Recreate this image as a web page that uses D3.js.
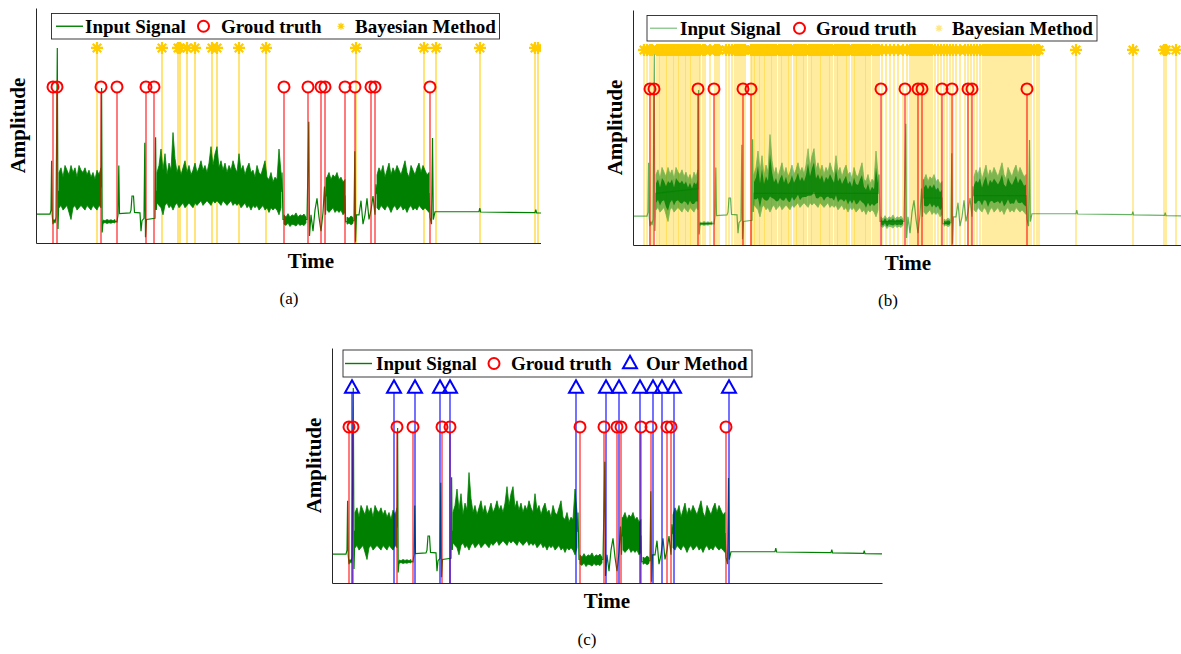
<!DOCTYPE html>
<html>
<head>
<meta charset="utf-8">
<script src="https://cdn.jsdelivr.net/npm/d3@7"></script>
<style>
  body { margin: 0; background: #fff; }
  text { font-family: "Liberation Serif", "Times New Roman", serif; }
</style>
</head>
<body>
<div id="fig"></div>
<script>
// time in samples (same scale in every panel), amplitude normalised 0..100
const tMax = 550;
const gtLevel = 66.4;
const detLevel = 83;

const groundTruth = [17, 21, 65, 81, 110, 118, 248, 272, 285, 289, 309, 319, 335, 339, 394];

const bayesA = [61, 126, 142, 144, 151, 159, 176, 181, 203, 230, 320, 388, 400, 444, 499, 502];

const bayesB = [11, 14, 17, 19, 24, 26, 27, 29, 31, 33, 34, 36, 38, 40, 41, 43, 45, 46, 48, 50,
  52, 53, 55, 57, 58, 60, 62, 64, 66, 67, 70,
  72, 77, 82, 84, 86, 93, 96, 99,
  102, 104, 106, 108, 110, 112,
  118, 119, 121, 122, 124, 126, 127, 129, 131, 132, 134, 136, 138, 139, 141, 143, 146, 148,
  149, 151, 153, 155, 156, 158, 161, 163, 164, 166, 168, 170, 171, 173, 176, 178, 179, 181,
  183, 185, 187, 188, 190, 192, 194, 196, 197, 199, 202, 204, 205, 207, 209, 211, 213, 214,
  216, 219, 221, 222, 224, 226, 228, 230, 232, 233, 235, 237, 240, 242, 244, 246, 249, 253,
  257, 261, 265, 270, 274, 277, 279, 281,
  283, 285, 287, 289, 291, 293, 295, 297, 299, 302, 305, 308, 311,
  314, 317, 320, 323, 327,
  332, 335, 338, 341, 344, 347, 350,
  352, 354, 356, 358, 360, 362, 364, 366, 368, 370, 372, 374, 376, 378, 380, 382, 384, 386,
  388, 390, 392, 394, 396, 398, 401, 404, 406,
  443, 500, 531, 533, 543];

const ourMethod = [20, 62, 83, 108, 118, 244, 274, 287, 308, 321, 330, 342, 397];

// slow part of the input signal, [t, amplitude]
const signalLine = [
  [0, 12.3], [14, 12.3], [15, 14], [15.6, 35], [16.2, 12], [17, 8], [18, 10], [19, 8.5], [20, 11],
  [21.3, 83], [22, 6], [23, 22], [65, 24], [65.6, 66], [66.2, 4.5], [67, 9], [80, 9.2], [81, 9],
  [82, 12], [82.8, 33], [83.5, 12.5], [94, 12.8], [95, 14], [96, 20], [97.5, 20], [98.5, 13],
  [104, 12.8], [105, 5], [106, 9.5], [108, 10.5], [108.8, 42.7], [109.5, 2.5], [110.5, 10],
  [119, 10.5], [119.6, 45], [120.3, 14], [121, 22], [245, 22], [246, 30], [247, 10], [271, 10],
  [272.8, 51.6], [273.5, 3], [275, 12], [277, 5], [279, 14], [281, 19], [283, 11], [285, 5],
  [287, 13], [288.5, 24], [289.5, 12], [290.5, 28], [291, 20], [309, 20], [309.6, 9], [318, 9.5],
  [318.8, 39], [319.5, 0.5], [320.5, 12], [323, 12], [325, 18], [327, 8], [329, 12], [331, 19],
  [333, 10], [335, 14], [337, 20], [339, 12], [340, 25], [341, 21], [393, 21], [394, 11],
  [395.5, 8], [396.5, 44.7], [397.3, 10], [399, 13.3], [443, 13.3], [443.8, 14.8], [444.6, 13.2],
  [499, 12.9], [499.8, 14.2], [500.6, 12.8], [531.5, 12.6], [532.2, 13.8], [533, 12.5], [550, 12.4]
];

// envelopes of the noisy stretches (step of 2 samples)
const noise1Hi = [30, 32, 28, 33, 31, 29, 33, 30, 32, 28, 33, 31, 30, 32, 29, 31, 28, 30, 27, 31, 29, 32];
const noise1Lo = [15, 16, 14, 15, 16, 13, 10, 15, 16, 14, 15, 16, 15, 14, 16, 15, 14, 16, 15, 14, 16, 15];
const noise2Hi = [30, 33, 40, 31, 38, 29, 34, 31, 47, 36, 30, 33, 29, 32, 35, 30, 33, 29, 31, 34,
  30, 32, 35, 31, 33, 30, 34, 41, 33, 38, 41, 32, 35, 31, 34, 30, 33, 31, 35, 32,
  30, 38, 31, 33, 29, 32, 34, 30, 31, 28, 33, 30, 29, 32, 35, 28, 27, 30, 26, 28, 27, 40, 30];
const noise2Lo = [17, 16, 15, 12, 16, 17, 15, 16, 14, 16, 17, 15, 16, 17, 15, 16, 17, 16, 15, 17,
  16, 17, 18, 16, 17, 18, 17, 16, 18, 17, 18, 17, 16, 18, 17, 16, 17, 18, 16, 17,
  16, 17, 15, 16, 17, 15, 16, 14, 16, 15, 16, 14, 15, 16, 14, 15, 13, 15, 14, 15, 14, 12, 15];
const noise3Hi = [28, 30, 27, 29, 28, 30, 27, 28, 26, 27];
const noise3Lo = [14, 13, 14, 15, 13, 14, 13, 14, 12, 13];
const noise4Hi = [29, 32, 30, 33, 28, 31, 34, 29, 32, 30, 33, 31, 29, 32, 35, 30, 28, 33, 31, 29, 32, 34, 30, 33, 31, 29, 30];
const noise4Lo = [15, 14, 16, 15, 14, 16, 15, 13, 15, 16, 14, 15, 16, 14, 15, 13, 15, 16, 14, 15, 14, 16, 15, 14, 15, 14, 13];
const noise5Hi = [9.8, 9.5, 10, 9.6, 9.9, 9.5, 10];
const noise5Lo = [8.4, 8.7, 8.3, 8.6, 8.4, 8.8, 8.5];
const noise6Hi = [12, 11, 12.5, 11, 12, 11.5, 12.8, 11, 12, 11.5, 12.3, 11];
const noise6Lo = [8, 7.5, 8.5, 7, 8, 7.8, 7.2, 8.3, 7.5, 8, 7.4, 8.5];
const noise7Hi = [11, 10.5, 11.5, 10.8];
const noise7Lo = [8, 8.5, 7.8, 8.3];

const noiseSegs = [
  [23, noise1Lo, noise1Hi], [121, noise2Lo, noise2Hi], [291, noise3Lo, noise3Hi],
  [341, noise4Lo, noise4Hi], [67, noise5Lo, noise5Hi], [248, noise6Lo, noise6Hi],
  [311, noise7Lo, noise7Hi]
];

const GREEN = "#008000", RED = "#ff0000", YELLOW = "#ffcc00", BLUE = "#0000ff", AXIS = "#262626";
const plotW = 550, plotH = 235;

const svg = d3.select("#fig").append("svg")
  .attr("width", 1181)
  .attr("height", 654);

const x = d3.scaleLinear().domain([0, tMax]).range([0, plotW]);
const y = d3.scaleLinear().domain([0, 100]).range([plotH, 0]);

function starPath(r) {
  const k = r * 0.7071;
  return `M${-r},0L${r},0M0,${-r}L0,${r}M${-k},${-k}L${k},${k}M${-k},${k}L${k},${-k}`;
}
function triPath(w, h) {
  return `M0,${-h * 0.62}L${w},${h * 0.38}L${-w},${h * 0.38}Z`;
}

function drawPanel(p) {
  const g = svg.append("g").attr("transform", `translate(${p.left},${p.bottom - plotH})`);

  if (p.clip) {
    svg.append("clipPath").attr("id", "clip-" + p.id)
      .append("rect").attr("x", -40).attr("y", -60).attr("width", p.clip + 40).attr("height", plotH + 120);
    g.attr("clip-path", `url(#clip-${p.id})`);
  }

  // detection stems (behind the signal)
  const detColor = p.kind === "star" ? YELLOW : BLUE;
  if (p.kind === "star") {
    g.selectAll(".det").data(p.det).enter().append("line")
      .attr("x1", d => x(d)).attr("x2", d => x(d))
      .attr("y1", y(0)).attr("y2", y(detLevel))
      .attr("stroke", YELLOW).attr("stroke-width", p.faded ? 1 : 1.3)
      .attr("stroke-opacity", p.faded ? 0.75 : 0.8);
  }

  // input signal
  const area = d3.area().x(d => x(d.t)).y0(d => y(d.lo)).y1(d => y(d.hi));
  noiseSegs.forEach(([t0, lo, hi]) => {
    const pts = lo.map((l, i) => ({ t: t0 + i * 2, lo: l, hi: hi[i] }));
    g.append("path").datum(pts).attr("d", area)
      .attr("fill", GREEN).attr("stroke", GREEN).attr("stroke-width", 0.8)
      .attr("opacity", p.faded ? 0.5 : 1);
    if (p.faded) {
      const inner = pts.map(d => ({ t: d.t, lo: d.lo + (d.hi - d.lo) * 0.2, hi: d.hi - (d.hi - d.lo) * 0.25 }));
      g.append("path").datum(inner).attr("d", area)
        .attr("fill", GREEN).attr("opacity", 0.85);
    }
  });
  g.append("path").datum(signalLine)
    .attr("d", d3.line().x(d => x(d[0])).y(d => y(d[1])))
    .attr("fill", "none").attr("stroke", GREEN).attr("stroke-width", 1.2)
    .attr("stroke-opacity", p.faded ? 0.6 : 1);

  // ground truth stems
  g.selectAll(".gt").data(groundTruth).enter().append("line")
    .attr("x1", d => x(d)).attr("x2", d => x(d))
    .attr("y1", y(0)).attr("y2", y(gtLevel) + 5.5)
    .attr("stroke", RED).attr("stroke-width", 1.3).attr("stroke-opacity", 0.8);

  if (p.kind === "triangle") {
    g.selectAll(".det").data(p.det).enter().append("line")
      .attr("x1", d => x(d)).attr("x2", d => x(d))
      .attr("y1", y(0)).attr("y2", y(detLevel) + 5)
      .attr("stroke", BLUE).attr("stroke-width", 1.3).attr("stroke-opacity", 0.85);
  }

  // markers
  g.selectAll(".gtm").data(groundTruth).enter().append("circle")
    .attr("cx", d => x(d)).attr("cy", y(gtLevel)).attr("r", 5.5)
    .attr("fill", "none").attr("stroke", RED).attr("stroke-width", 2);

  g.selectAll(".detm").data(p.det).enter().append("path")
    .attr("transform", d => `translate(${x(d)},${y(detLevel)})`)
    .attr("d", p.kind === "star" ? starPath(6) : triPath(7, 12.5))
    .attr("fill", "none").attr("stroke", detColor)
    .attr("stroke-width", p.kind === "star" ? 2.2 : 2);

  // axes
  g.append("g").call(d3.axisLeft(y).tickValues([]).tickSizeOuter(0))
    .select(".domain").attr("stroke", AXIS);
  g.append("g").attr("transform", `translate(0,${plotH})`)
    .call(d3.axisBottom(x).tickValues([]).tickSizeOuter(0))
    .select(".domain").attr("stroke", AXIS);

  g.append("text")
    .attr("transform", "rotate(-90)")
    .attr("x", -plotH / 2).attr("y", -11)
    .attr("text-anchor", "middle")
    .attr("font-size", 21).attr("font-weight", "bold")
    .text("Amplitude");

  g.append("text")
    .attr("x", plotW / 2).attr("y", plotH + 25)
    .attr("text-anchor", "middle")
    .attr("font-size", 21).attr("font-weight", "bold")
    .text("Time");

  // legend (item offsets are relative to the box)
  const L = p.legend;
  const lg = g.append("g").attr("transform", `translate(${L.x},${L.y})`);
  lg.append("rect").attr("width", L.w).attr("height", L.h)
    .attr("fill", "#fff").attr("stroke", AXIS).attr("stroke-width", 0.9);
  const cy = L.h / 2;
  lg.append("line").attr("x1", L.items[0]).attr("x2", L.items[0] + 27)
    .attr("y1", cy).attr("y2", cy)
    .attr("stroke", p.faded ? "#8fc98f" : GREEN).attr("stroke-width", 1.4);
  lg.append("circle").attr("cx", L.items[2]).attr("cy", cy).attr("r", 5.5)
    .attr("fill", "none").attr("stroke", RED).attr("stroke-width", 2);
  lg.append("path").attr("transform", `translate(${L.items[4]},${cy})`)
    .attr("d", p.kind === "star" ? starPath(3.5) : triPath(7, 12.5))
    .attr("fill", "none")
    .attr("stroke", p.kind === "star" ? (p.faded ? "#ffe680" : YELLOW) : BLUE)
    .attr("stroke-width", p.kind === "star" ? 1.2 : 2);
  [["Input Signal", 1], ["Groud truth", 3], [p.name, 5]].forEach(([t, i]) => {
    lg.append("text").attr("x", L.items[i]).attr("y", cy + 6.3)
      .attr("font-size", 19).attr("font-weight", "bold").attr("fill", "#000")
      .text(t);
  });

  svg.append("text")
    .attr("x", p.caption[0]).attr("y", p.caption[1])
    .attr("text-anchor", "middle").attr("font-size", 17)
    .text(p.label);
}

drawPanel({
  id: "a", left: 36, bottom: 243, clip: 505, det: bayesA, kind: "star",
  name: "Bayesian Method", faded: false, label: "(a)", caption: [289, 304],
  legend: { x: 15.5, y: 5.5, w: 448, h: 25.5, items: [4.5, 33.5, 152, 169.5, 289.5, 303.5] }
});
drawPanel({
  id: "b", left: 633, bottom: 245, clip: null, det: bayesB, kind: "star",
  name: "Bayesian Method", faded: true, label: "(b)", caption: [888, 306],
  legend: { x: 14, y: 5.5, w: 450, h: 25.5, items: [3, 33, 152.5, 169, 292, 305] }
});
drawPanel({
  id: "c", left: 332, bottom: 583, clip: null, det: ourMethod, kind: "triangle",
  name: "Our Method", faded: false, label: "(c)", caption: [587, 645],
  legend: { x: 11, y: 2, w: 409, h: 27, items: [2, 33, 151, 168, 287, 303] }
});
</script>
</body>
</html>
